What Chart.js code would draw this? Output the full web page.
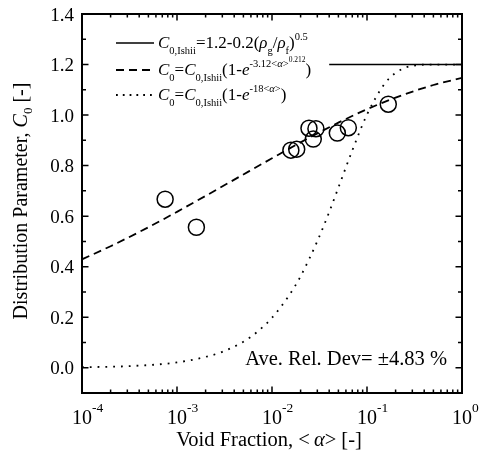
<!DOCTYPE html>
<html>
<head>
<meta charset="utf-8">
<script src="https://cdn.jsdelivr.net/npm/chart.js@4/dist/chart.umd.min.js"></script>
<style>
  html, body { margin: 0; padding: 0; background: #fff; }
  #wrap { width: 483px; height: 460px; }
</style>
</head>
<body>
<div id="wrap"><canvas id="c" width="483" height="460"></canvas></div>
<script>
// Measured distribution parameter vs. void fraction
const alphaMeas = [7.5e-4, 1.6e-3, 0.0158, 0.0182, 0.0245, 0.029, 0.0272, 0.0487, 0.0636, 0.1675];
const c0Meas    = [0.667, 0.556, 0.861, 0.865, 0.948, 0.946, 0.905, 0.929, 0.950, 1.043];

// Ishii constant C0
const ishiiX = [0.04, 1];
const ishiiY = [1.2, 1.2];

// C0 = C0,Ishii (1 - exp(-3.12 <a>^0.212))
const dashX = [1e-4, 2e-4, 5e-4, 1e-3, 2e-3, 5e-3, 0.01, 0.02, 0.05, 0.1, 0.2, 0.5, 1];
const dashY = [0.429, 0.481, 0.556, 0.617, 0.680, 0.765, 0.829, 0.892, 0.970, 1.023, 1.069, 1.119, 1.147];

// C0 = C0,Ishii (1 - exp(-18 <a>))
const dotX = [1e-4, 3e-4, 1e-3, 2e-3, 3e-3, 5e-3, 7e-3, 0.01, 0.015, 0.02, 0.03, 0.04, 0.05, 0.07, 0.1, 0.15, 0.2, 0.3, 0.5, 1];
const dotY = [0.002, 0.006, 0.021, 0.043, 0.063, 0.103, 0.142, 0.198, 0.284, 0.362, 0.501, 0.616, 0.713, 0.860, 1.002, 1.119, 1.167, 1.195, 1.200, 1.200];

// Axis ticks
const xMajor = [1e-4, 1e-3, 1e-2, 1e-1, 1];
const xExp = ['-4', '-3', '-2', '-1', '0'];
const yMajor = [0.0, 0.2, 0.4, 0.6, 0.8, 1.0, 1.2, 1.4];
const yMinor = [0.1, 0.3, 0.5, 0.7, 0.9, 1.1, 1.3];

const FONT = '"Liberation Serif", "DejaVu Serif", serif';

const pts = (xs, ys) => xs.map((x, i) => ({ x, y: ys[i] }));

function font(size, it) { return (it ? 'italic ' : '') + size + 'px ' + FONT; }

// segments: [text, size, italic, dy]
function richWidth(ctx, segs) {
  let w = 0;
  for (const s of segs) { ctx.font = font(s[1], s[2]); w += ctx.measureText(s[0]).width; }
  return w;
}
function drawRich(ctx, segs, x, y, align) {
  let cx = x;
  if (align === 'center') cx = x - richWidth(ctx, segs) / 2;
  else if (align === 'right') cx = x - richWidth(ctx, segs);
  ctx.textAlign = 'left';
  ctx.textBaseline = 'alphabetic';
  for (const s of segs) {
    ctx.font = font(s[1], s[2]);
    ctx.fillText(s[0], cx, y + (s[3] || 0));
    cx += ctx.measureText(s[0]).width;
  }
}

const decor = {
  id: 'decor',
  afterDraw(chart) {
    const { ctx, chartArea: a, scales } = chart;
    const xs = scales.x, ys = scales.y;
    ctx.save();
    ctx.fillStyle = '#000';
    ctx.strokeStyle = '#000';

    // inward ticks on all four sides
    ctx.lineWidth = 1.5;
    ctx.beginPath();
    for (let e = -4; e <= 0; e++) {
      for (let m = 1; m <= 9; m++) {
        const v = m * Math.pow(10, e);
        if (v > 1.0000001) break;
        const px = xs.getPixelForValue(v);
        const len = m === 1 ? 6.5 : 3.5;
        ctx.moveTo(px, a.bottom); ctx.lineTo(px, a.bottom - len);
        ctx.moveTo(px, a.top); ctx.lineTo(px, a.top + len);
      }
    }
    const yTick = (v, len) => {
      const py = ys.getPixelForValue(v);
      ctx.moveTo(a.left, py); ctx.lineTo(a.left + len, py);
      ctx.moveTo(a.right, py); ctx.lineTo(a.right - len, py);
    };
    yMajor.forEach(v => yTick(v, 6.5));
    yMinor.forEach(v => yTick(v, 4));
    ctx.stroke();

    // frame
    ctx.lineWidth = 2;
    ctx.strokeRect(a.left, a.top, a.right - a.left, a.bottom - a.top);

    // y tick labels
    ctx.font = font(19, false);
    ctx.textAlign = 'right';
    ctx.textBaseline = 'alphabetic';
    yMajor.forEach(v => {
      ctx.fillText(v.toFixed(1), a.left - 8, ys.getPixelForValue(v) + 6.5);
    });

    // x tick labels: "10" centred on tick, exponent raised to its right
    xMajor.forEach((v, i) => {
      const px = xs.getPixelForValue(v);
      ctx.font = font(20, false);
      ctx.textAlign = 'center';
      ctx.fillText('10', px, a.bottom + 31);
      const w = ctx.measureText('10').width;
      ctx.font = font(13.5, false);
      ctx.textAlign = 'left';
      ctx.fillText(xExp[i], px + w / 2, a.bottom + 19);
    });

    // axis titles
    drawRich(ctx, [
      ['Void Fraction, ', 20.5, false, 0],
      ['<', 20.5, false, 0], ['\u2009\u03B1', 20.5, true, 0], ['> [-]', 20.5, false, 0]
    ], 269, 446, 'center');

    ctx.save();
    ctx.translate(27, 201);
    ctx.rotate(-Math.PI / 2);
    drawRich(ctx, [
      ['Distribution Parameter, ', 20, false, 0],
      ['C', 20, true, 0], ['0', 13, false, 5], [' [-]', 20, false, 0]
    ], 0, 0, 'center');
    ctx.restore();

    // legend
    const S = 17, SB = 10.5, SS = 7.5, DN = 6, UP = -8, UU = -13;
    const lx0 = 116, lx1 = 154, tx = 158;
    const rows = [
      { y: 43, dash: [], w: 1.6, segs: [
        ['C', S, true, 0], ['0,Ishii', SB, false, DN], ['=1.2-0.2(', S, false, 0],
        ['\u03C1', S, true, 0], ['g', SB, false, DN], ['/', S, false, 0],
        ['\u03C1', S, true, 0], ['f', SB, false, DN], [')', S, false, 0], ['0.5', SB, false, UP]
      ]},
      { y: 70, dash: [8, 5], w: 1.8, segs: [
        ['C', S, true, 0], ['0', SB, false, DN], ['=', S, false, 0],
        ['C', S, true, 0], ['0,Ishii', SB, false, DN], ['(1-', S, false, 0],
        ['e', S, true, 0], ['-3.12<', SB, false, UP], ['\u03B1', SB, true, UP], ['>', SB, false, UP],
        ['0.212', SS, false, UU], [')', S, false, 0]
      ]},
      { y: 95, dash: [1.8, 5], w: 1.8, segs: [
        ['C', S, true, 0], ['0', SB, false, DN], ['=', S, false, 0],
        ['C', S, true, 0], ['0,Ishii', SB, false, DN], ['(1-', S, false, 0],
        ['e', S, true, 0], ['-18<', SB, false, UP], ['\u03B1', SB, true, UP], ['>', SB, false, UP],
        [')', S, false, 0]
      ]}
    ];
    rows.forEach(r => {
      ctx.setLineDash(r.dash);
      ctx.lineWidth = r.w;
      ctx.beginPath(); ctx.moveTo(lx0, r.y); ctx.lineTo(lx1, r.y); ctx.stroke();
      ctx.setLineDash([]);
      drawRich(ctx, r.segs, tx, r.y + 4.5, 'left');
    });

    // deviation note
    ctx.font = font(20.5, false);
    ctx.textAlign = 'right';
    ctx.textBaseline = 'alphabetic';
    ctx.fillText('Ave. Rel. Dev= \u00B14.83 %', 447, 365);

    ctx.restore();
  }
};

new Chart(document.getElementById('c'), {
  type: 'scatter',
  data: {
    datasets: [
      { data: pts(ishiiX, ishiiY), showLine: true, borderColor: '#000', borderWidth: 1.6, pointRadius: 0 },
      { data: pts(dashX, dashY), showLine: true, borderColor: '#000', borderWidth: 1.8, borderDash: [8, 5],
        pointRadius: 0, cubicInterpolationMode: 'monotone' },
      { data: pts(dotX, dotY), showLine: true, borderColor: '#000', borderWidth: 1.8, borderDash: [1.8, 6],
        pointRadius: 0, cubicInterpolationMode: 'monotone' },
      { data: pts(alphaMeas, c0Meas), showLine: false, pointRadius: 8, pointBorderWidth: 1.5,
        pointBackgroundColor: 'rgba(0,0,0,0)', pointBorderColor: '#000' }
    ]
  },
  options: {
    responsive: false,
    animation: false,
    layout: { padding: { left: 82, top: 14, right: 21, bottom: 67 } },
    plugins: { legend: { display: false }, tooltip: { enabled: false } },
    scales: {
      x: { type: 'logarithmic', min: 1e-4, max: 1, display: false },
      y: { type: 'linear', min: -0.1, max: 1.4, display: false }
    }
  },
  plugins: [decor]
});
</script>
</body>
</html>
